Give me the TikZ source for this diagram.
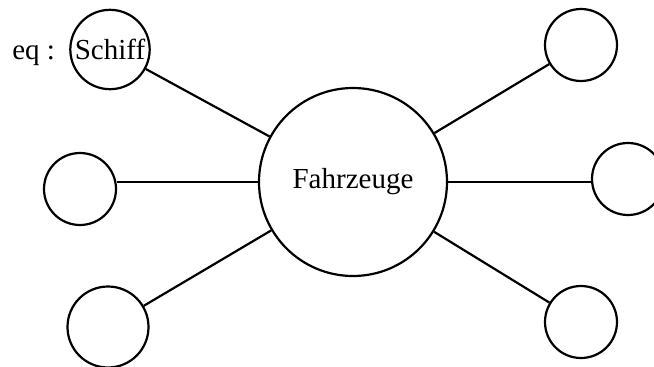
\documentclass[tikz,border=0pt]{standalone}
\usepackage{fontspec}
\setmainfont{Liberation Serif}
\usepackage{tikz}

\begin{document}
\begin{tikzpicture}[x=1pt,y=-1pt,
  kreis/.style={circle,draw,line width=2.2pt,inner sep=2.5pt,minimum size=72pt},
  ast/.style={line width=2.2pt},
  font=\fontsize{29pt}{34pt}\selectfont]
 \useasboundingbox (0,0) rectangle (654,367);
 \node[kreis,minimum size=188pt] (fz) at (353,182) {Fahrzeuge};
 \node[kreis] (schiff) at (110,49.5) {Schiff};
 \node[kreis] (links) at (80,189) {};
 \node[kreis,minimum size=81pt] (linksunten) at (108,327) {};
 \node[kreis] (rechtsoben) at (581,45) {};
 \node[kreis] (rechts) at (628,179) {};
 \node[kreis] (rechtsunten) at (581,322) {};
 \node[anchor=base east,inner sep=0pt] (eq) at ([xshift=-14pt]schiff.west |- schiff.base) {eq :};

 \draw[ast] (fz) -- (schiff);
 \draw[ast] (fz.west) -- (fz.west -| links.east);
 \draw[ast] (fz) -- (linksunten);
 \draw[ast] (fz) -- (rechtsoben);
 \draw[ast] (fz.east) -- (fz.east -| rechts.west);
 \draw[ast] (fz) -- (rechtsunten);
\end{tikzpicture}
\end{document}
